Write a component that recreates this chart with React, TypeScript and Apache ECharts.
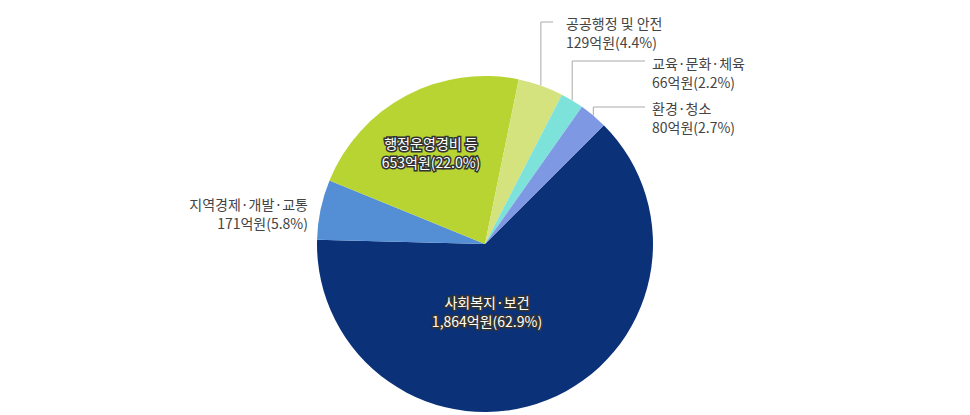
import React, { useEffect, useRef } from "react";
import * as echarts from "echarts";

const categories = [
  "사회복지·보건",
  "지역경제·개발·교통",
  "행정운영경비 등",
  "공공행정 및 안전",
  "교육·문화·체육",
  "환경·청소",
];
const values = [1864, 171, 653, 129, 66, 80];
const colors = ["#0b3279", "#548fd6", "#b8d432", "#d4e37d", "#7de2d9", "#7e98e3"];
const unit = "억원";

// label placement (layout only)
const labelPlace = [
  { x: 487, y: 311, align: "center", va: "middle", inside: true },
  { x: 308, y: 213, align: "right", va: "middle", inside: false, noLine: true },
  { x: 431, y: 152, align: "center", va: "middle", inside: true },
  { x: 566, y: 13, align: "left", va: "top", lineY: 22, lineEnd: 553 },
  { x: 652, y: 53, align: "left", va: "top", lineY: 61, lineEnd: 645 },
  { x: 652, y: 98, align: "left", va: "top", lineY: 107, lineEnd: 645 },
];

const CX = 485;
const CY = 244;
const R = 168;
const START = 45;

export default function App() {
  const ref = useRef<HTMLDivElement>(null);
  useEffect(() => {
    if (!ref.current) return;
    const chart = echarts.init(ref.current, null, { renderer: "svg" });
    const total = values.reduce((a, b) => a + b, 0);
    const fmt = (i: number) =>
      `${categories[i]}\n${values[i].toLocaleString("en-US")}${unit}(${((values[i] / total) * 100).toFixed(1)}%)`;
    const data = categories.map((name, i) => {
      const p = labelPlace[i];
      const item: any = { name, value: values[i], itemStyle: { color: colors[i] } };
      if (p.inside) {
        item.label = {
          position: "inside",
          color: "#ffffff",
          textBorderColor: "#333333",
          textBorderWidth: 3,
        };
      }
      if (p.noLine) item.labelLine = { show: false };
      return item;
    });
    const startPoint = (i: number) => {
      let cum = 0;
      for (let k = 0; k < i; k++) cum += values[k];
      const mid = START + (360 * (cum + values[i] / 2)) / total;
      const rad = (mid * Math.PI) / 180;
      return [CX + R * Math.sin(rad), CY - R * Math.cos(rad)];
    };
    chart.setOption({
      animation: false,
      textStyle: { fontFamily: "'Noto Sans CJK KR', 'Noto Sans', sans-serif" },
      series: [
        {
          type: "pie",
          center: [CX, CY],
          radius: R,
          startAngle: START,
          clockwise: true,
          avoidLabelOverlap: false,
          silent: true,
          data,
          itemStyle: { borderWidth: 0 },
          label: {
            show: true,
            position: "outside",
            formatter: (p: any) => fmt(p.dataIndex),
            fontSize: 14,
            lineHeight: 19,
            color: "#444444",
            fontFamily: "'Noto Sans CJK KR', sans-serif",
          },
          labelLine: {
            show: true,
            lineStyle: { color: "#aaaaaa", width: 1 },
          },
          labelLayout: (params: any) => {
            const i = params.dataIndex;
            const p: any = labelPlace[i];
            const out: any = { x: p.x, y: p.y, align: p.align, verticalAlign: p.va };
            if (p.lineY != null) {
              const s = startPoint(i);
              out.labelLinePoints = [
                [s[0], s[1]],
                [s[0], p.lineY],
                [p.lineEnd, p.lineY],
              ];
            }
            return out;
          },
        },
      ],
    });
    return () => chart.dispose();
  }, []);
  return (
    <div
      ref={ref}
      style={{ position: "absolute", left: 0, top: 0, width: 970, height: 415, background: "#fff" }}
    />
  );
}
